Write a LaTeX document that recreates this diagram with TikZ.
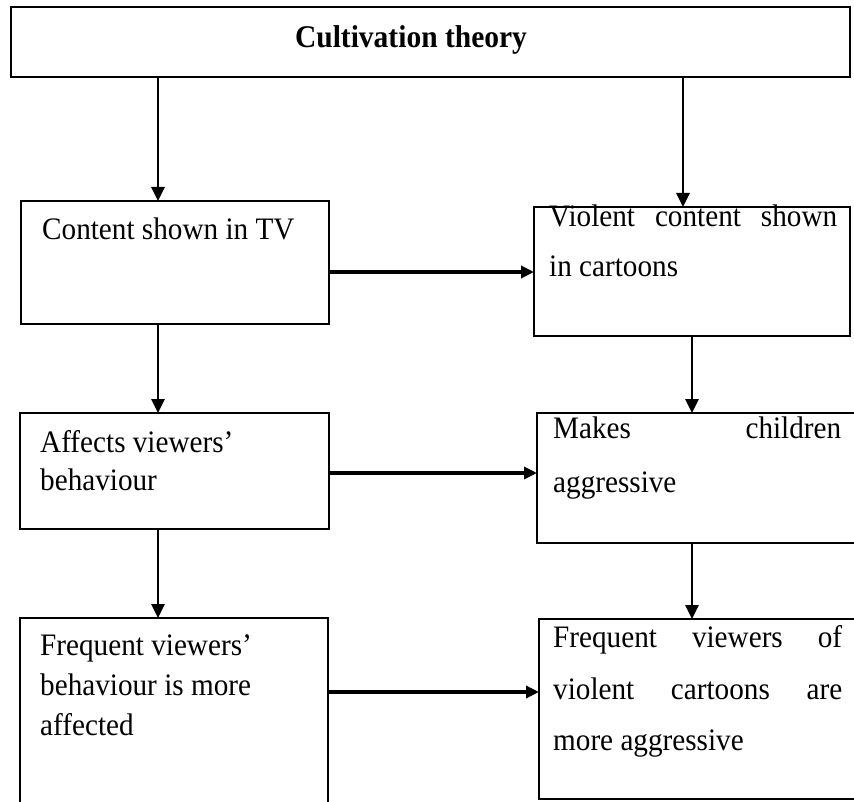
\documentclass[tikz,border=0pt]{standalone}
\usepackage{fontspec}
\setmainfont{Liberation Serif}
\usetikzlibrary{arrows.meta}
\newcommand{\tall}[1]{\scalebox{1}[1.07]{#1}}
\begin{document}
\begin{tikzpicture}[x=1pt,y=-1pt,
  box/.style={draw, line width=1.9pt, anchor=north west, inner sep=0pt, outer sep=0pt},
  txt/.style={anchor=base west, inner sep=0pt, font=\fontsize{29.2}{36}\selectfont},
  arr/.style={line width=2.8pt, -{Triangle[length=14pt,width=13pt]}},
  harr/.style={line width=3.4pt, -{Triangle[length=13pt,width=12pt]}}]
\useasboundingbox (0,0) rectangle (854,802);
% boxes
\node[box, minimum width=839pt, minimum height=70pt] (title) at (11,7) {};
\node[box, minimum width=308pt, minimum height=123pt] (b1) at (21,201) {};
\node[box, minimum width=316pt, minimum height=129pt] (vc) at (534,207) {};
\node[box, minimum width=309pt, minimum height=116pt] (b2) at (20,413) {};
\node[box, minimum width=320pt, minimum height=130pt] (mk) at (537,413) {};
\node[box, minimum width=308pt, minimum height=200pt] (b3) at (20,618) {};
\node[box, minimum width=320pt, minimum height=180pt] (fr) at (539,619) {};
% texts
\node[anchor=base, inner sep=0pt, font=\bfseries\fontsize{29.5}{36}\selectfont] (tt) at (411,48) {\tall{Cultivation theory}};
\node[txt] (t1) at (42,240) {\tall{Content shown in TV}};
\node[txt] (t2a) at (549,227) {\tall{\makebox[288pt][s]{Violent content shown}}};
\node[txt] (t2b) at (549,277) {\tall{in cartoons}};
\node[txt] (t3a) at (40,452) {\tall{Affects viewers’}};
\node[txt] (t3b) at (40,490) {\tall{behaviour}};
\node[txt] (t4a) at (553,438) {\tall{\makebox[288pt][s]{Makes children}}};
\node[txt] (t4b) at (553,492) {\tall{aggressive}};
\node[txt] (t5a) at (40,655) {\tall{Frequent viewers’}};
\node[txt] (t5b) at (40,695) {\tall{behaviour is more}};
\node[txt] (t5c) at (40,735) {\tall{affected}};
\node[txt] (t6a) at (553,647) {\tall{\makebox[289pt][s]{Frequent viewers of}}};
\node[txt] (t6b) at (553,699) {\tall{\makebox[289pt][s]{violent cartoons are}}};
\node[txt] (t6c) at (553,750) {\tall{more aggressive}};
% guide coordinates
\coordinate (cL) at (158,0);
\coordinate (cR) at (683,0);
\coordinate (cR2) at (692,0);
\coordinate (h1) at (0,272);
\coordinate (h2) at (0,473);
\coordinate (h3) at (0,692);
% connectors
\draw[arr] (title.south -| cL) -- (b1.north -| cL);
\draw[arr] (title.south -| cR) -- (vc.north -| cR);
\draw[arr] (b1.south -| cL) -- (b2.north -| cL);
\draw[arr] (b2.south -| cL) -- (b3.north -| cL);
\draw[arr] (vc.south -| cR2) -- (mk.north -| cR2);
\draw[arr] (mk.south -| cR2) -- (fr.north -| cR2);
\draw[harr] (b1.east |- h1) -- (vc.west |- h1);
\draw[harr] (b2.east |- h2) -- (mk.west |- h2);
\draw[harr] (b3.east |- h3) -- (fr.west |- h3);
\end{tikzpicture}
\end{document}
